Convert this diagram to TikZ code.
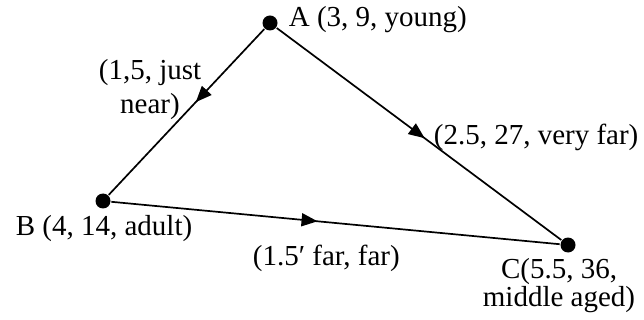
\documentclass[tikz,border=0pt]{standalone}
\usepackage{fontspec}
\setmainfont{Liberation Serif}
\usetikzlibrary{arrows.meta,decorations.markings}

\newcommand{\dotnode}[2]{
	\node[circle, fill, inner sep=0pt, minimum size=15pt] (#1) at (#2) {};
}
\newcommand{\midarrow}[3]{
	\draw[postaction=decorate, decoration={markings,
		mark=at position #3 with {\arrow{Triangle[length=16pt,width=13pt]}}}]
	(#1) -- (#2);
}

\begin{document}
\begin{tikzpicture}
	[x=1pt, y=-1pt, line width=1.7pt, font=\fontsize{29}{34}\selectfont]
	\useasboundingbox (0,0) rectangle (644,320);
	% points
	\dotnode{A}{270,23}
	\dotnode{B}{103,201}
	\dotnode{C}{568,245}
	% edges
	\midarrow{A}{B}{0.44}
	\midarrow{A}{C}{0.52}
	\midarrow{B}{C}{0.46}
	% point labels
	\node[anchor=base west, inner sep=0pt] (labA) at (288,27) {A (3, 9, young)};
	\node[anchor=base west, inner sep=0pt] (labB) at (15,235) {B (4, 14, adult)};
	\node[anchor=base, inner sep=0pt, align=center,
		font=\fontsize{29}{28}\selectfont] (labC) at (559,306) {C(5.5, 36,\\middle aged)};
	% edge labels
	\node[anchor=base, inner sep=0pt, align=center] (labAB) at (150,114) {(1,5, just\\near)};
	\node[anchor=base west, inner sep=0pt] (labAC) at (433,145) {(2.5, 27, very far)};
	\node[anchor=base west, inner sep=0pt] (labBC) at (252,265) {(1.5′ far, far)};
\end{tikzpicture}
\end{document}
